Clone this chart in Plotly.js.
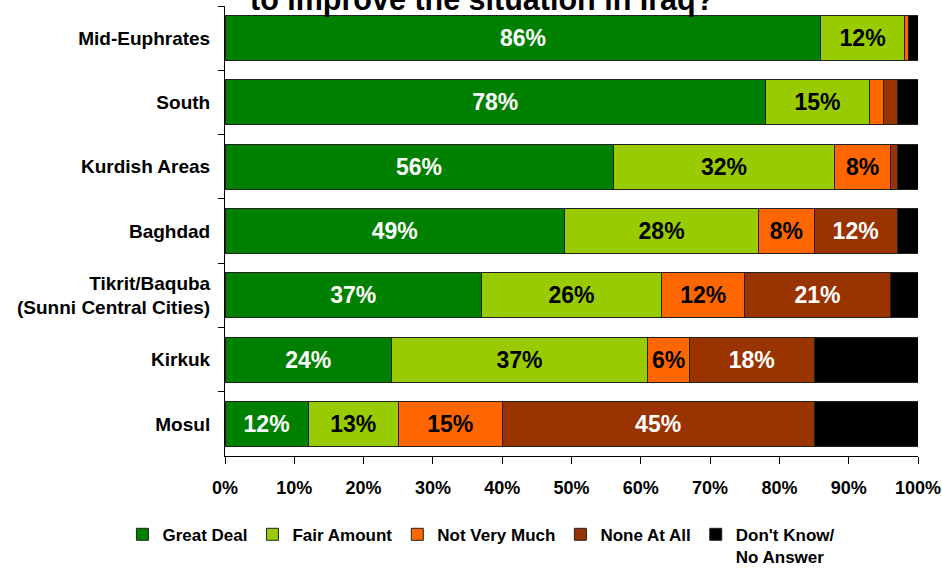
<!DOCTYPE html>
<html>
<head>
<meta charset="utf-8">
<script src="https://cdn.plot.ly/plotly-3.0.1.min.js"></script>
<style>
  html, body { margin: 0; padding: 0; background: #ffffff; }
  #chart { width: 942px; height: 570px; }
</style>
</head>
<body>
<div id="chart"></div>
<script>
// Regions (top to bottom)
const regions = [
  "Mid-Euphrates",
  "South",
  "Kurdish Areas",
  "Baghdad",
  "Tikrit/Baquba<br>(Sunni Central Cities)",
  "Kirkuk",
  "Mosul"
];

// Series values (%)
const greatDeal   = [86, 78, 56, 49, 37, 24, 12];
const fairAmount  = [12, 15, 32, 28, 26, 37, 13];
const notVeryMuch = [0.7, 2, 8, 8, 12, 6, 15];
const noneAtAll   = [0, 2, 1, 12, 21, 18, 45];
const dontKnow    = [1.3, 3, 3, 3, 4, 15, 15];

const seriesNames  = ["Great Deal", "Fair Amount", "Not Very Much", "None At All", "Don't Know/<br>No Answer"];
const seriesColors = ["#008000", "#99CC00", "#FF6600", "#993300", "#000000"];
const labelColors  = ["#ffffff", "#000000", "#000000", "#ffffff", "#ffffff"];
const showLabels   = [true, true, true, true, false];

const FONT = "Liberation Sans, Arial, Helvetica, sans-serif";

const allSeries = [greatDeal, fairAmount, notVeryMuch, noneAtAll, dontKnow];

const traces = allSeries.map((vals, i) => ({
  type: "bar",
  orientation: "h",
  name: seriesNames[i],
  y: regions,
  x: vals,
  text: vals.map(v => (showLabels[i] && v >= 6) ? Math.round(v) + "%" : ""),
  textposition: "inside",
  insidetextanchor: "middle",
  textangle: 0,
  constraintext: "none",
  textfont: { family: FONT, size: 23, color: labelColors[i], weight: "bold" },
  marker: { color: seriesColors[i], line: { color: "#222222", width: 1 } },
  hoverinfo: "skip",
  cliponaxis: false
}));

const layout = {
  width: 942,
  height: 570,
  barmode: "stack",
  bargap: 0.3,
  paper_bgcolor: "#ffffff",
  plot_bgcolor: "#ffffff",
  margin: { l: 225, r: 24, t: 6, b: 114, autoexpand: false },
  font: { family: FONT, color: "#000000" },
  showlegend: true,
  legend: {
    orientation: "h",
    x: -0.148,
    xanchor: "left",
    y: -0.135,
    yanchor: "top",
    valign: "top",
    font: { family: FONT, size: 17, color: "#000000", weight: "bold" },
    traceorder: "normal",
    tracegroupgap: 0
  },
  xaxis: {
    range: [0, 100],
    dtick: 10,
    ticksuffix: "%",
    showgrid: false,
    zeroline: false,
    showline: true,
    linecolor: "#000000",
    linewidth: 1,
    ticks: "outside",
    ticklen: 7,
    tickcolor: "#000000",
    ticklabelstandoff: 8,
    tickfont: { family: FONT, size: 18, color: "#000000", weight: "bold" },
    fixedrange: true
  },
  yaxis: {
    type: "category",
    categoryorder: "array",
    categoryarray: regions,
    autorange: "reversed",
    showgrid: false,
    zeroline: false,
    showline: true,
    linecolor: "#000000",
    linewidth: 1,
    ticks: "outside",
    ticklen: 6,
    tickcolor: "#000000",
    tickson: "boundaries",
    ticklabelstandoff: 10,
    tickfont: { family: FONT, size: 19, color: "#000000", weight: "bold" },
    fixedrange: true
  },
  annotations: [{
    text: "to improve the situation in Iraq?",
    xref: "paper", yref: "paper",
    x: 0.371, y: 1,
    xanchor: "center", yanchor: "middle",
    yshift: 7,
    showarrow: false,
    font: { family: FONT, size: 30.5, color: "#000000", weight: "bold" }
  }]
};

Plotly.newPlot("chart", traces, layout, { displayModeBar: false, staticPlot: true });
</script>
</body>
</html>
